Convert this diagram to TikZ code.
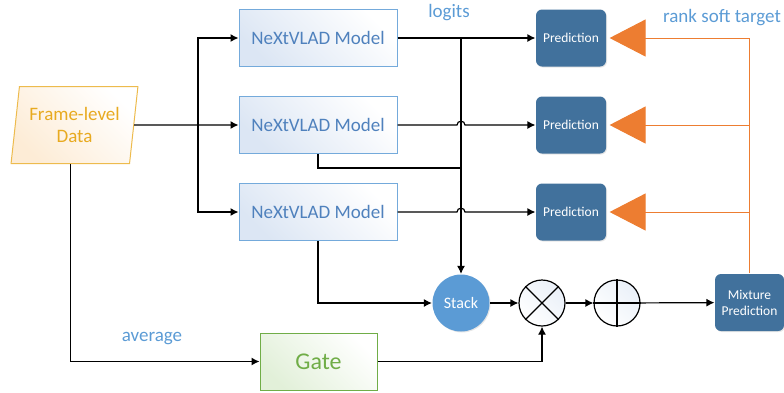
\documentclass[tikz,border=0pt]{standalone}
\usepackage{fontspec}
\setmainfont{Carlito}
\usetikzlibrary{positioning,shapes.geometric,arrows.meta,shadows}
\definecolor{lblblue}{RGB}{91,155,213}
\definecolor{mdlblue}{RGB}{79,129,189}
\definecolor{mdlfill}{RGB}{220,230,244}
\definecolor{predblue}{RGB}{65,113,156}
\definecolor{stackblue}{RGB}{91,155,213}
\definecolor{softorange}{RGB}{237,125,49}
\definecolor{frameyellow}{RGB}{232,170,32}
\definecolor{framefill}{RGB}{253,236,214}
\definecolor{gategreen}{RGB}{112,173,71}
\definecolor{gatefill}{RGB}{226,240,217}
\newcommand\lbltxt{\fontsize{19}{22}\selectfont}
\newcommand\predtxt{\fontsize{13.5}{16}\selectfont}
\tikzset{>={Latex[length=8pt,width=8pt]}}

\begin{document}
\begin{tikzpicture}[x=1pt, y=-1pt, line width=1.2pt,
    model/.style={draw=lblblue!85, line width=1pt, minimum width=158pt, minimum height=57pt, top color=mdlfill, bottom color=white, shading angle=135, text=mdlblue, font=\lbltxt},
    pred/.style={fill=predblue, rounded corners=6pt, minimum width=70pt, minimum height=57pt, text=white, font=\predtxt, align=center, drop shadow={opacity=0.2, shadow xshift=1pt, shadow yshift=-1pt}},
    op/.style={draw, circle, minimum size=46pt, top color=white, bottom color=mdlfill!60, shading angle=135},
    lbl/.style={text=lblblue, font=\lbltxt},
    soft/.style={draw=softorange, line width=1pt}]
  \useasboundingbox (0,0) rectangle (784,392);
  \node[draw=frameyellow!80, line width=1pt, trapezium, trapezium left angle=80, trapezium right angle=100, trapezium stretches=true, minimum width=127pt, minimum height=77pt, top color=framefill, bottom color=white, shading angle=135, text=frameyellow, align=center, font=\lbltxt] (fd) at (74.5,125) {Frame-level\\Data};
  \node[model] (m2) at (318,125) {NeXtVLAD Model};
  \node[model, above of=m2, node distance=87pt] (m1) {NeXtVLAD Model};
  \node[model, below of=m2, node distance=87pt] (m3) {NeXtVLAD Model};
  \node[pred, right of=m1, node distance=253pt] (p1) {Prediction};
  \node[pred, right of=m2, node distance=253pt] (p2) {Prediction};
  \node[pred, right of=m3, node distance=253pt] (p3) {Prediction};
  \node[circle, fill=stackblue, minimum size=57pt, text=white, font=\fontsize{16}{19}\selectfont, drop shadow={opacity=0.2, shadow xshift=1pt, shadow yshift=-1pt}] (st) at (461,303) {Stack};
  \node[op, right of=st, node distance=81pt] (mul) {};
  \node[op, right of=mul, node distance=75pt] (add) {};
  \node[pred, minimum width=69pt] (mx) at (749.5,302.5) {Mixture\\Prediction};
  \node[draw=gategreen, line width=1pt, minimum width=117pt, minimum height=57pt, top color=gatefill, bottom color=white, shading angle=135, text=gategreen, font=\fontsize{24}{28}\selectfont] (gate) at (318.5,361.5) {Gate};
  \node[lbl] (lg) at (449,13) {logits};
  \node[lbl] (rk) at (722,18) {rank soft target};
  \node[lbl] (av) at (152,339) {average};
  \coordinate (bx) at (198,125);
  \coordinate (j2) at (461,168);
  \draw (mul.north west) -- (mul.south east);
  \draw (mul.north east) -- (mul.south west);
  \draw (add.north) -- (add.south);
  \draw (add.west) -- (add.east);
  \draw[->] (fd.east) -- (m2.west);
  \draw[->] (bx) |- (m1.west);
  \draw[->] (bx) |- (m3.west);
  \draw[->] (m1) -- (p1);
  \draw[->] (m1.east -| st) -- (st);
  \draw[->] (m2.east) -- ([xshift=-4pt]m2.east -| st) .. controls +(0,-5) and +(0,-5) .. ([xshift=4pt]m2.east -| st) -- (p2.west);
  \draw[->] (m3.east) -- ([xshift=-4pt]m3.east -| st) .. controls +(0,-5) and +(0,-5) .. ([xshift=4pt]m3.east -| st) -- (p3.west);
  \draw (m2.south) |- (j2);
  \draw[->] (m3.south) |- (st.west);
  \draw[->] (st) -- (mul);
  \draw[->] (mul) -- (add);
  \draw[->] (add) -- (mx);
  \draw[->] (fd.bottom side) |- (gate.west);
  \draw[->] (gate.east) -| (mul.south);
  \draw[soft] (mx.north) -- (mx.north |- p1.east);
  \foreach \i in {1,2,3}
    \draw[soft, -{Triangle[length=36pt,width=37pt]}, shorten >=3pt] (mx.north |- p\i.east) -- (p\i.east);
\end{tikzpicture}
\end{document}
